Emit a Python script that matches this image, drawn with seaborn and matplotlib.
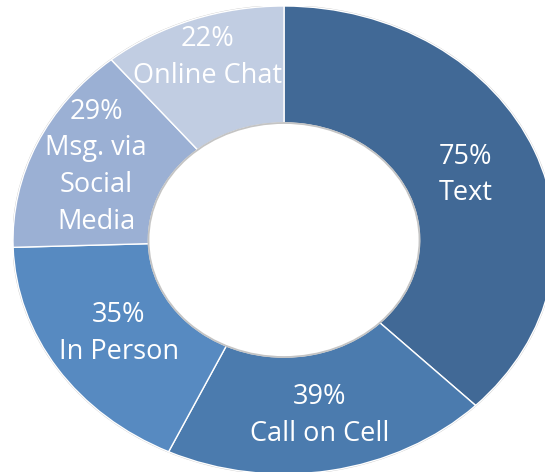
import numpy as np
import matplotlib
matplotlib.use("Agg")
import matplotlib.pyplot as plt
from matplotlib.patches import Circle
import seaborn as sns

categories = ["Text", "Call on Cell", "In Person", "Msg. via\nSocial\nMedia", "Online Chat"]
values = [75, 39, 35, 29, 22]
pct_labels = ["75%", "39%", "35%", "29%", "22%"]
colors = ["#416996", "#4B7BAE", "#578AC1", "#9BB0D4", "#C1CDE2"]

label_radius = [0.725, 0.76, 0.73, 0.76, 0.83]

sns.set_style("white")
plt.rcParams['font.family'] = ['Open Sans', 'DejaVu Sans']

fig = plt.figure(figsize=(5.45, 4.72), dpi=100)
ax = fig.add_axes([13/545, -2/472, 542/545, 468/472])

palette = sns.color_palette(colors)
wedges, _ = ax.pie(values, colors=palette, startangle=90, counterclock=False,
                   wedgeprops=dict(width=0.5, edgecolor="white", linewidth=1.0))
ax.set_aspect('auto')
ax.set_xlim(-1, 1)
ax.set_ylim(-1, 1)
ax.axis('off')

ax.add_patch(Circle((0, 0), 1.0, fill=False, ec="#c4c4c4", lw=1.3, zorder=0.5))
ax.add_patch(Circle((0, 0), 0.5, fill=False, ec="#c4c4c4", lw=1.3, zorder=3))

total = sum(values)
start = 90.0
for v, cat, pct, r in zip(values, categories, pct_labels, label_radius):
    span = 360.0 * v / total
    mid = np.deg2rad(start - span / 2)
    start -= span
    ax.text(r * np.cos(mid), r * np.sin(mid), f"{pct}\n{cat}", ha="center", va="center",
            color="white", fontsize=19.5, linespacing=1.42, zorder=5)

fig.savefig("out.png", dpi=100)
